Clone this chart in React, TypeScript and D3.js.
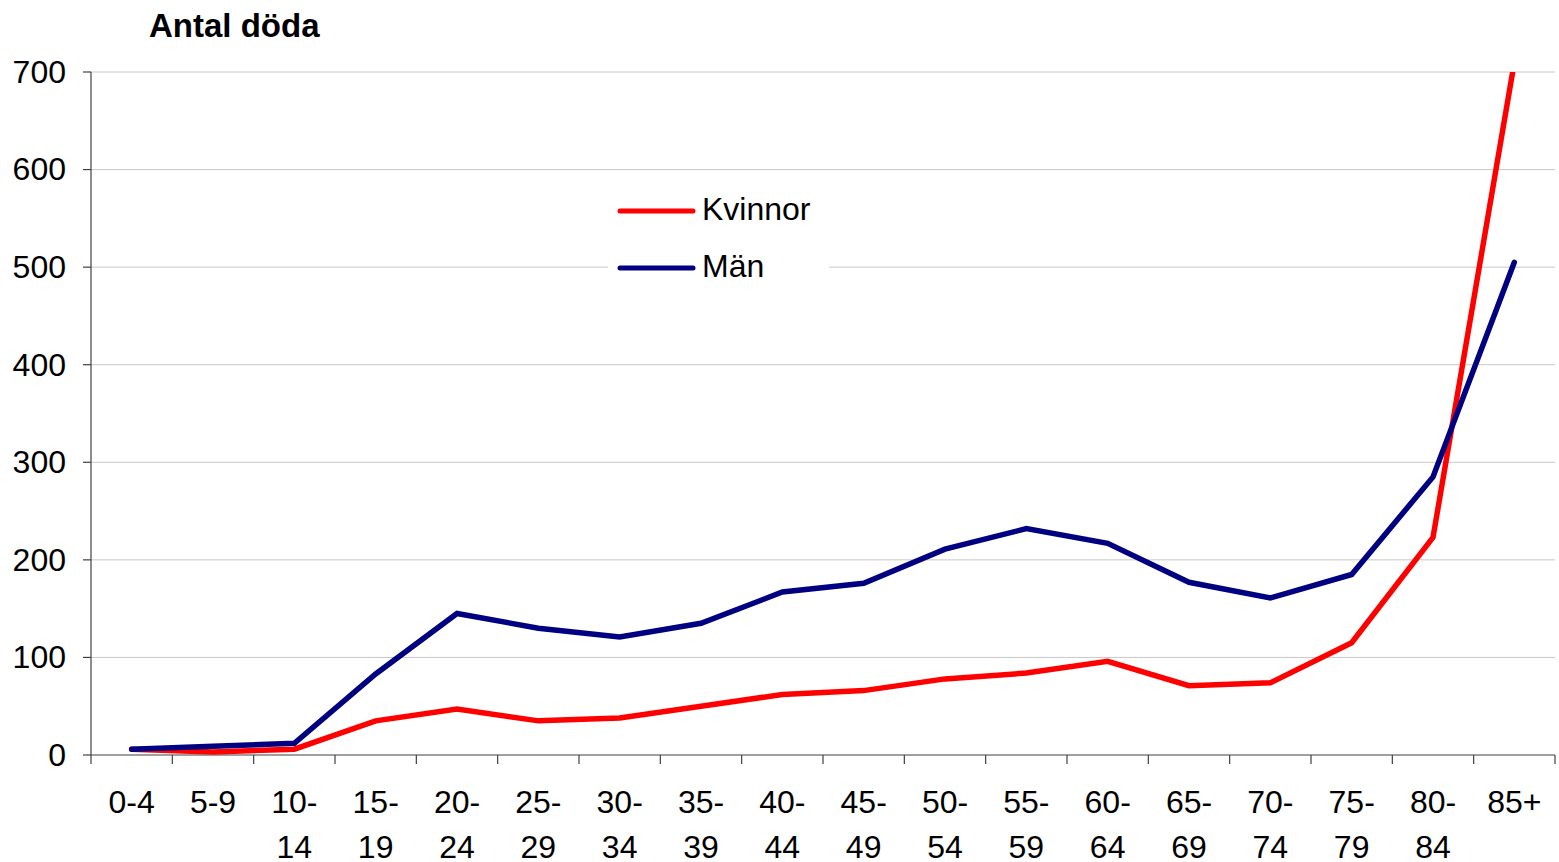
import React from "react";
import * as d3 from "d3";

const categories = ["0-4","5-9","10-14","15-19","20-24","25-29","30-34","35-39","40-44","45-49","50-54","55-59","60-64","65-69","70-74","75-79","80-84","85+"];
const kvinnor = [6,3,6,35,47,35,38,50,62,66,78,84,96,71,74,115,223,710];
const man = [6,9,12,83,145,130,121,135,167,176,211,232,217,177,161,185,285,505];
const yTicks = [0,100,200,300,400,500,600,700];
const seriesNames = ["Kvinnor","Män"];
const seriesColors = ["#ff0000","#000080"];

const W = 1559, H = 862;
const left = 91, right = 1555, top = 72, bottom = 755;

export default function App() {
  const x = d3.scaleBand<string>().domain(categories).range([left, right]).padding(0);
  const y = d3.scaleLinear().domain([0, 700]).range([bottom, top]);
  const line = d3.line<number>().x((_, i) => (x(categories[i]) as number) + x.bandwidth() / 2).y(d => y(d));
  const font = "'Liberation Sans', Arial, sans-serif";
  const series = [kvinnor, man];
  const boundaries = d3.range(categories.length + 1).map(i => left + i * x.bandwidth());
  return (
    <svg width={W} height={H} style={{ position: "absolute", left: 0, top: 0, background: "#fff" }} fontFamily={font}>
      <defs>
        <clipPath id="plotclip"><rect x={left} y={top} width={right - left} height={bottom - top} /></clipPath>
      </defs>
      <rect x={0} y={0} width={W} height={H} fill="#fff" />
      <text x={149} y={37} fontSize={33} fontWeight="bold" fill="#000">Antal döda</text>
      {yTicks.filter(t => t > 0).map(t => (
        <line key={t} x1={left} x2={right} y1={y(t)} y2={y(t)} stroke="#c8c8c8" strokeWidth={1} />
      ))}
      {yTicks.map(t => (
        <g key={"yt" + t}>
          <line x1={left - 8} x2={left} y1={y(t)} y2={y(t)} stroke="#404040" strokeWidth={1.2} />
          <text x={66} y={y(t)} dy="0.34em" textAnchor="end" fontSize={32} fill="#000">{t}</text>
        </g>
      ))}
      <line x1={left} x2={left} y1={top} y2={bottom} stroke="#404040" strokeWidth={1.2} />
      <line x1={left} x2={right} y1={bottom} y2={bottom} stroke="#404040" strokeWidth={1.2} />
      {boundaries.map((b, i) => (
        <line key={"xt" + i} x1={b} x2={b} y1={bottom} y2={bottom + 9} stroke="#404040" strokeWidth={1.2} />
      ))}
      {categories.map(c => {
        const cx = (x(c) as number) + x.bandwidth() / 2;
        const parts = c.includes("-") && c.length > 3 ? [c.split("-")[0] + "-", c.split("-")[1]] : [c];
        return (
          <text key={c} x={cx} textAnchor="middle" fontSize={32} fill="#000">
            {parts.map((p, i) => (
              <tspan key={i} x={cx} y={813 + i * 45}>{p}</tspan>
            ))}
          </text>
        );
      })}
      <rect x={608} y={182} width={221} height={116} fill="#fff" />
      {seriesNames.map((n, i) => (
        <g key={n}>
          <line x1={620} x2={693} y1={211 + i * 57} y2={211 + i * 57} stroke={seriesColors[i]} strokeWidth={5} strokeLinecap="round" />
          <text x={702} y={220 + i * 57} fontSize={32} fill="#000">{n}</text>
        </g>
      ))}
      <g clipPath="url(#plotclip)">
        {series.map((s, i) => (
          <path key={i} d={line(s) as string} fill="none" stroke={seriesColors[i]} strokeWidth={5.5} strokeLinejoin="miter" strokeLinecap="round" />
        ))}
      </g>
    </svg>
  );
}
